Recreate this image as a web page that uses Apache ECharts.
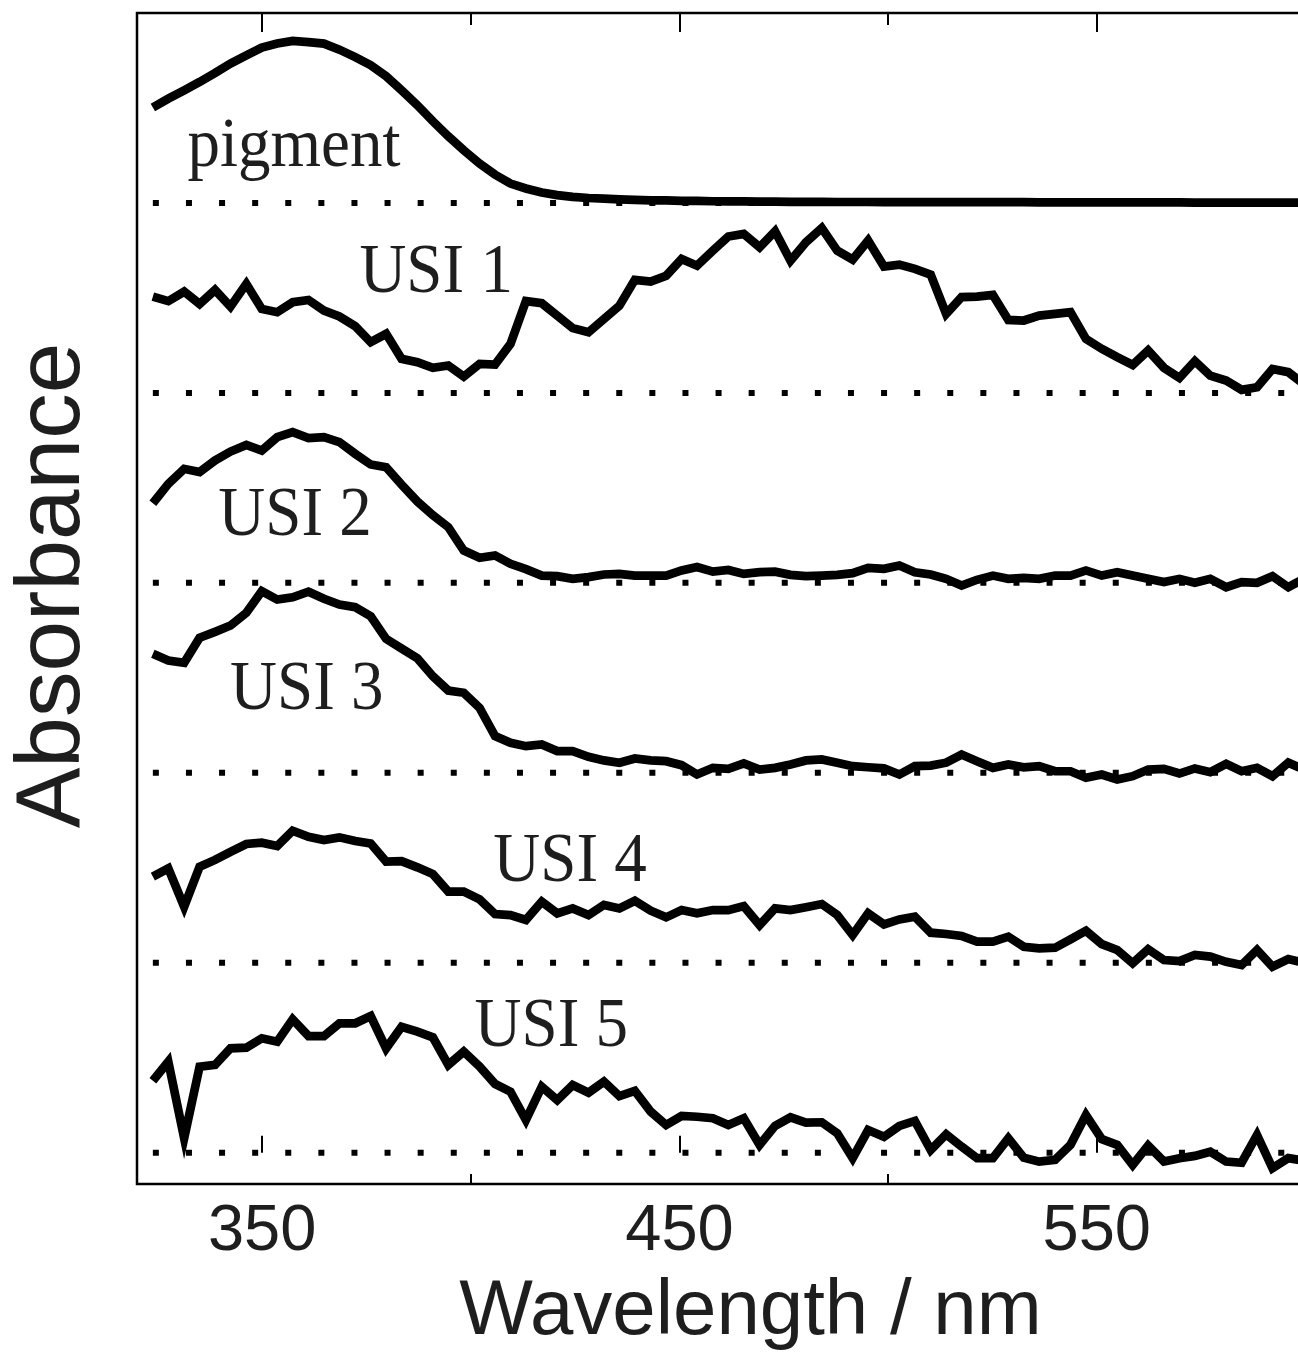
<!DOCTYPE html>
<html>
<head>
<meta charset="utf-8">
<script src="https://cdn.jsdelivr.net/npm/echarts@6/dist/echarts.min.js"></script>
<style>
  html, body { margin: 0; padding: 0; overflow: hidden; background: #fff; }
  #chart { width: 1400px; height: 1355px; }
</style>
</head>
<body>
<div id="chart"></div>
<script>
// Wavelength grid shared by every spectrum (nm)
const wavelengths = [
  323.8,327.5,331.3,335.0,338.7,342.4,346.2,349.9,353.6,357.3,
  361.1,364.8,368.5,372.3,376.0,379.7,383.4,387.2,390.9,394.6,
  398.3,402.1,405.8,409.5,413.2,417.0,420.7,424.4,428.2,431.9,
  435.6,439.3,443.1,446.8,450.5,454.2,458.0,461.7,465.4,469.2,
  472.9,476.6,480.3,484.1,487.8,491.5,495.2,499.0,502.7,506.4,
  510.2,513.9,517.6,521.3,525.1,528.8,532.5,536.2,540.0,543.7,
  547.4,551.2,554.9,558.6,562.3,566.1,569.8,573.5,577.2,581.0,
  584.7,588.4,592.1,595.9,599.6
];

// Absorbance of each sample, relative to its own baseline
const pigment = [
  0.502,0.549,0.593,0.637,0.684,0.734,0.777,0.818,0.839,0.853,
  0.847,0.839,0.807,0.768,0.725,0.667,0.593,0.514,0.430,0.351,
  0.277,0.207,0.149,0.102,0.076,0.055,0.041,0.032,0.026,0.023,
  0.019,0.016,0.014,0.013,0.011,0.011,0.009,0.008,0.008,0.007,
  0.007,0.006,0.006,0.006,0.005,0.005,0.005,0.004,0.004,0.004,
  0.004,0.004,0.004,0.004,0.004,0.004,0.004,0.003,0.003,0.003,
  0.003,0.003,0.003,0.003,0.003,0.003,0.003,0.002,0.002,0.002,
  0.002,0.002,0.002,0.002,0.002
];
const usi1 = [
  0.507,0.483,0.533,0.468,0.542,0.454,0.574,0.442,0.425,0.477,
  0.489,0.433,0.402,0.351,0.267,0.311,0.179,0.162,0.132,0.144,
  0.086,0.153,0.149,0.258,0.483,0.472,0.407,0.341,0.319,0.389,
  0.459,0.595,0.586,0.617,0.705,0.670,0.749,0.823,0.837,0.767,
  0.851,0.696,0.793,0.868,0.749,0.702,0.802,0.665,0.675,0.653,
  0.623,0.416,0.504,0.507,0.516,0.384,0.381,0.407,0.416,0.425,
  0.284,0.232,0.188,0.147,0.223,0.132,0.079,0.167,0.091,0.065,
  0.016,0.030,0.126,0.109,0.047
];
const usi2 = [
  0.419,0.521,0.600,0.583,0.644,0.691,0.726,0.696,0.767,0.793,
  0.762,0.767,0.741,0.679,0.623,0.609,0.517,0.428,0.356,0.293,
  0.170,0.132,0.144,0.100,0.072,0.038,0.035,0.021,0.030,0.044,
  0.047,0.038,0.038,0.038,0.065,0.083,0.059,0.068,0.047,0.056,
  0.059,0.042,0.035,0.038,0.042,0.051,0.079,0.074,0.091,0.056,
  0.044,0.021,-0.014,0.016,0.038,0.021,0.026,0.021,0.038,0.038,
  0.065,0.038,0.056,0.038,0.021,0.004,0.021,0.000,0.021,-0.023,
  0.004,0.000,0.035,-0.023,0.021
];
const usi3 = [
  0.626,0.591,0.579,0.711,0.742,0.775,0.842,0.956,0.912,0.924,
  0.953,0.916,0.886,0.872,0.824,0.705,0.654,0.602,0.508,0.433,
  0.421,0.342,0.193,0.158,0.140,0.149,0.114,0.114,0.084,0.065,
  0.053,0.075,0.065,0.061,0.040,-0.009,0.026,0.021,0.049,0.017,
  0.026,0.044,0.065,0.070,0.053,0.035,0.029,0.023,-0.009,0.035,
  0.038,0.053,0.096,0.061,0.026,0.044,0.029,0.035,0.008,0.008,
  -0.026,-0.009,-0.035,-0.018,0.017,0.021,-0.004,0.023,0.003,0.047,
  0.008,0.026,-0.018,0.053,0.017
];
const usi4 = [
  0.453,0.497,0.295,0.505,0.541,0.584,0.625,0.632,0.614,0.695,
  0.663,0.646,0.660,0.641,0.628,0.532,0.535,0.502,0.467,0.374,
  0.374,0.334,0.256,0.251,0.225,0.321,0.260,0.286,0.251,0.304,
  0.286,0.326,0.274,0.239,0.277,0.260,0.277,0.277,0.298,0.198,
  0.286,0.277,0.292,0.309,0.251,0.146,0.260,0.202,0.228,0.242,
  0.158,0.151,0.141,0.111,0.111,0.137,0.084,0.076,0.079,0.123,
  0.168,0.098,0.067,-0.003,0.071,0.014,0.009,0.041,0.032,0.005,
  -0.012,0.067,-0.021,0.019,0.000
];
const usi5 = [
  0.379,0.479,0.076,0.453,0.462,0.549,0.553,0.602,0.584,0.702,
  0.614,0.614,0.681,0.681,0.719,0.549,0.663,0.637,0.607,0.462,
  0.532,0.453,0.362,0.321,0.172,0.347,0.277,0.356,0.316,0.374,
  0.298,0.325,0.216,0.146,0.193,0.189,0.181,0.146,0.181,0.041,
  0.141,0.186,0.158,0.160,0.102,-0.029,0.119,0.084,0.141,0.167,
  0.014,0.097,0.032,-0.029,-0.029,0.076,-0.026,-0.047,-0.038,0.041,
  0.198,0.071,0.041,-0.065,0.037,-0.047,-0.029,-0.017,0.005,-0.047,
  -0.053,0.093,-0.082,-0.029,-0.042
];

const sampleNames = ['pigment', 'USI 1', 'USI 2', 'USI 3', 'USI 4', 'USI 5'];
const sampleValues = [pigment, usi1, usi2, usi3, usi4, usi5];
// vertical offset of each trace's baseline
const baselineOffsets = [5, 4, 3, 2, 1, 0];
// name placement: [wavelength at left edge of text, height above baseline]
const nameAnchors = [[332.1, 0.292], [373.3, 0.628], [339.5, 0.350], [342.3, 0.430], [405.4, 0.529], [400.9, 0.660]];

const majorTicks = [350, 450, 550];
const minorTicks = [400, 500, 600];

const X_MIN = 320, X_MAX = 614;
const INK = '#000';
const TEXT = '#1e1e1e';

const chart = echarts.init(document.getElementById('chart'), null, { renderer: 'canvas' });

const series = [];
// dotted baselines
baselineOffsets.forEach((off, k) => {
  series.push({
    type: 'line',
    name: sampleNames[k] + ' baseline',
    data: [[wavelengths[0], off], [wavelengths[wavelengths.length - 1], off]],
    showSymbol: false,
    silent: true,
    z: 2,
    lineStyle: { color: INK, width: 6, type: [6, 27.1], cap: 'butt' }
  });
});
// spectra
sampleValues.forEach((vals, k) => {
  series.push({
    type: 'line',
    name: sampleNames[k],
    data: wavelengths.map((w, i) => [w, baselineOffsets[k] + vals[i]]),
    showSymbol: false,
    z: 3,
    lineStyle: { color: INK, width: 8.7, join: 'miter' }
  });
});

function tickAxis(position, values, len, extra) {
  return Object.assign({
    type: 'value',
    position: position,
    min: X_MIN,
    max: X_MAX,
    axisLine: { show: false },
    splitLine: { show: false },
    axisTick: { show: true, inside: true, length: len, customValues: values, lineStyle: { color: INK, width: 2 } },
    axisLabel: { show: false }
  }, extra || {});
}

const option = {
  animation: false,
  backgroundColor: '#fff',
  grid: {
    left: 137, top: 13, width: (X_MAX - X_MIN) * 4.173, height: 1171,
    show: true, borderColor: INK, borderWidth: 2.5, backgroundColor: 'transparent',
    containLabel: false, outerBoundsMode: 'none'
  },
  xAxis: [
    tickAxis('bottom', majorTicks, 17, {
      axisLabel: {
        show: true, customValues: majorTicks, margin: 16,
        fontSize: 65, fontFamily: 'Liberation Sans, Arial, sans-serif', color: TEXT
      },
      name: 'Wavelength / nm',
      nameLocation: 'middle',
      nameGap: 89,
      nameTextStyle: { fontSize: 78, fontFamily: 'Liberation Sans, Arial, sans-serif', color: TEXT }
    }),
    tickAxis('bottom', minorTicks, 10),
    tickAxis('top', majorTicks, 19),
    tickAxis('top', minorTicks, 12)
  ],
  yAxis: {
    type: 'value',
    min: -0.165,
    max: 6,
    axisLine: { show: false },
    axisTick: { show: false },
    axisLabel: { show: false },
    splitLine: { show: false },
    name: 'Absorbance',
    nameLocation: 'middle',
    nameGap: 38,
    nameTextStyle: {
      fontSize: 91, fontFamily: 'Liberation Sans, Arial, sans-serif', color: TEXT,
      padding: [0, 0, 0, 26]
    }
  },
  series: series
};

chart.setOption(option);

// sample names, placed in data coordinates next to each trace
const graphics = nameAnchors.map((a, k) => {
  const p = chart.convertToPixel({ xAxisIndex: 0, yAxisIndex: 0 }, [a[0], baselineOffsets[k] + a[1]]);
  return {
    type: 'text',
    x: p[0],
    y: p[1],
    scaleY: 1.07,
    z: 10,
    style: {
      text: sampleNames[k],
      fill: TEXT,
      font: '65px "Liberation Serif", "Times New Roman", serif',
      align: 'left',
      verticalAlign: 'middle'
    }
  };
});
chart.setOption({ graphic: graphics });
</script>
</body>
</html>
